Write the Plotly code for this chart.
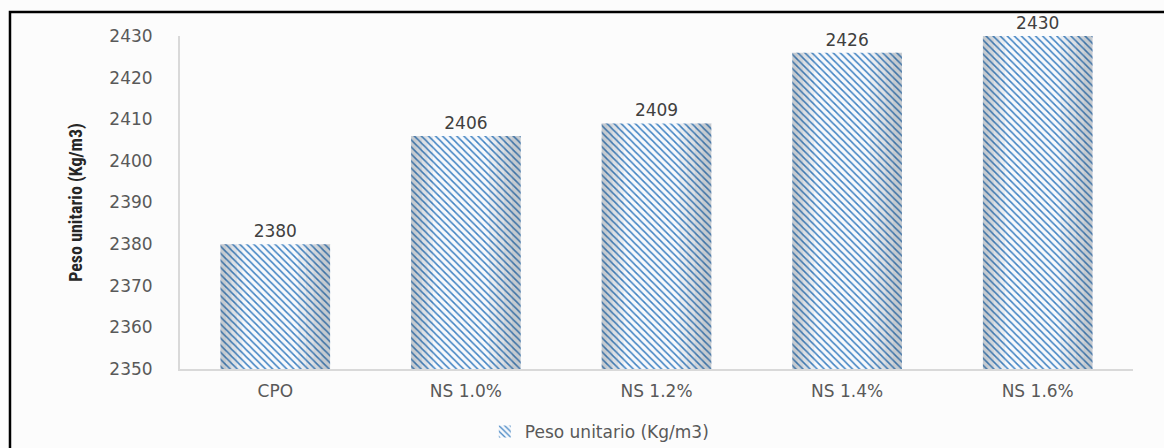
import plotly.graph_objects as go

categorias = ["CPO", "NS 1.0%", "NS 1.2%", "NS 1.4%", "NS 1.6%"]
peso_unitario = [2380, 2406, 2409, 2426, 2430]
ticks_y = [2350, 2360, 2370, 2380, 2390, 2400, 2410, 2420, 2430]

ancho = 0.575
base = 2350
alturas = [v - base for v in peso_unitario]
fuente = "DejaVu Sans"

fig = go.Figure()

# main cylinders with a fine diagonal hatch
fig.add_trace(go.Bar(
    x=categorias, y=alturas, base=base,
    width=ancho,
    name="Peso unitario (Kg/m3)",
    marker=dict(
        color="#ffffff",
        line=dict(width=0),
        pattern=dict(shape="\\", fgcolor="#3f82c2", bgcolor="#f7f9fc",
                     size=5, solidity=0.3, fillmode="replace"),
    ),
    text=[str(v) for v in peso_unitario],
    textposition="outside",
    textfont=dict(family=fuente, size=17, color="#404040"),
    cliponaxis=False,
))

# graded edge shading so the bars read as cylinders
for i in range(4):
    for lado in ("izq", "der"):
        w_l = ancho * (0.05 + 0.05 * i) if lado == "izq" else ancho * (0.08 + 0.07 * i)
        off = -ancho / 2 if lado == "izq" else ancho / 2 - w_l
        fig.add_trace(go.Bar(
            x=categorias, y=alturas, base=base,
            width=w_l, offset=off,
            marker=dict(color="rgba(60,70,85,0.07)", line=dict(width=0)),
            showlegend=False, hoverinfo="skip",
        ))

fig.update_layout(
    width=1164, height=448,
    margin=dict(l=180, r=31, t=36, b=79, autoexpand=False),
    paper_bgcolor="#fcfcfc", plot_bgcolor="#fcfcfc",
    barmode="overlay",
    font=dict(family=fuente, color="#595959"),
    showlegend=True,
    legend=dict(orientation="h", x=0.44, xanchor="center",
                yref="container", y=0.036, yanchor="middle",
                font=dict(size=17, color="#595959"), bgcolor="rgba(0,0,0,0)",
                itemwidth=30),
    xaxis=dict(
        automargin=False,
        showline=True, linecolor="#d9d9d9", linewidth=2,
        tickfont=dict(size=17, color="#595959"),
        ticks="outside", ticklen=6, tickcolor="rgba(0,0,0,0)",
        showgrid=False,
    ),
    yaxis=dict(
        automargin=False,
        range=[2350, 2430], tickvals=ticks_y,
        showline=True, linecolor="#d9d9d9", linewidth=2,
        showgrid=False, zeroline=False,
        ticks="outside", ticklen=22, tickcolor="rgba(0,0,0,0)",
        tickfont=dict(size=17, color="#595959"),
        title=dict(text="<b>Peso unitario (Kg/m3)</b>",
                   font=dict(family="Liberation Sans Narrow, Roboto Condensed, Arial Narrow", size=18, color="#262626"),
                   standoff=22),
    ),
    shapes=[dict(type="rect", xref="paper", yref="paper",
                 x0=-0.1784, x1=1.6, y0=-0.6, y1=1.072,
                 line=dict(color="#000000", width=2.5), fillcolor="rgba(0,0,0,0)",
                 layer="above")],
)

fig.write_html("out.html")
